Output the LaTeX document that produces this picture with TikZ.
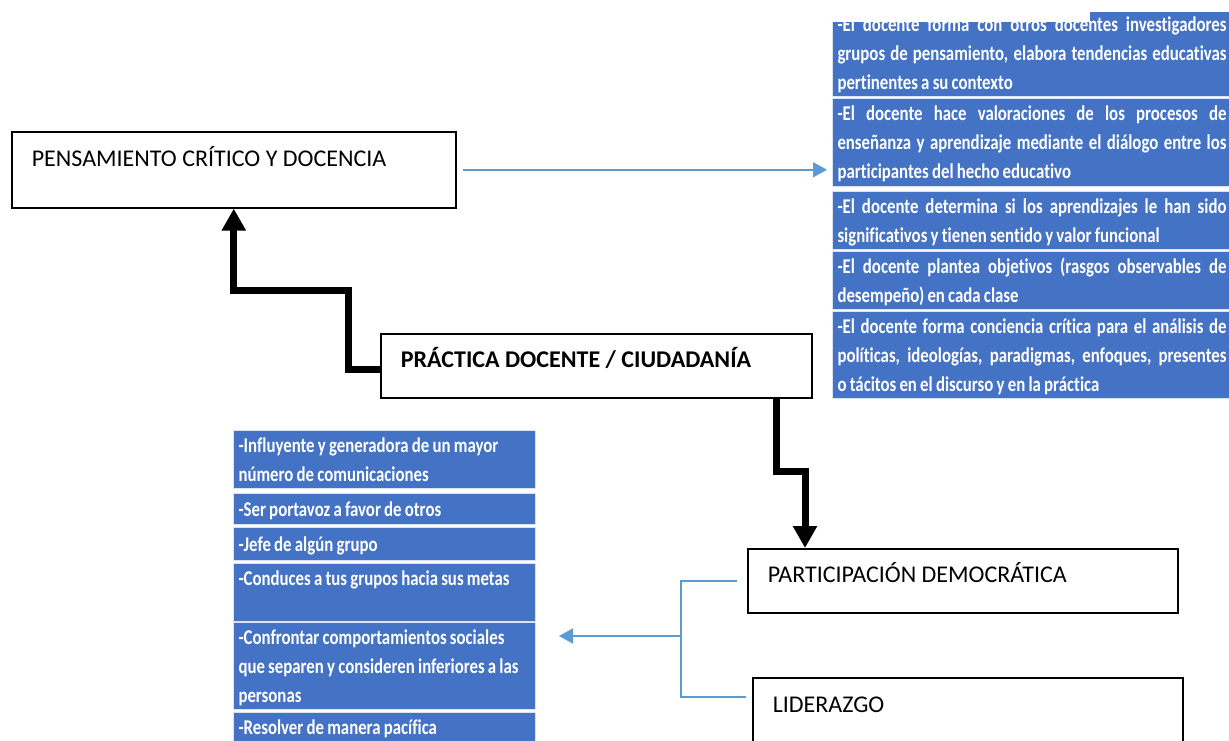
\documentclass[tikz,border=0pt]{standalone}
\usepackage{fontspec}
\setmainfont{Carlito}[Ligatures=NoCommon]
\newfontfamily\listfont{Carlito}[FakeStretch=0.8,WordSpace=0.85,Ligatures=NoCommon]
\usetikzlibrary{arrows.meta}
\definecolor{lblue}{HTML}{4472C4}
\definecolor{cblue}{HTML}{5B9BD5}
\newcommand{\ls}{\rule[-7pt]{0pt}{29pt}}

\begin{document}
\begin{tikzpicture}[x=1pt,y=-1pt,
  tema/.style={draw=black,line width=1.6pt,anchor=north west,inner ysep=0pt,inner xsep=20pt,align=flush left,font=\fontsize{24}{28}\selectfont},
  item/.style={fill=lblue,draw=white!80!lblue,line width=1pt,anchor=north west,inner ysep=0pt,inner xsep=5pt,text=white,font=\listfont\bfseries\fontsize{21}{29}\selectfont},
  gruesa/.style={line width=7pt,-{Triangle[width=23pt,length=22pt]}},
  azul/.style={cblue,line width=1.5pt}]

\useasboundingbox (0,0) rectangle (1229,741);
\clip (0,0) rectangle (1229,741);

\node[item,text width=389pt,align=justify] (tr1) at (832,9) {\ls-El docente forma con otros docentes investigadores\linebreak grupos de pensamiento, elabora tendencias educativas\linebreak pertinentes a su contexto\ls};
\node[item,text width=389pt,align=justify] (tr2) at (832,98.5) {\ls-El docente hace valoraciones de los procesos de\linebreak enseñanza y aprendizaje mediante el diálogo entre los\linebreak participantes del hecho educativo\ls};
\node[item,text width=389pt,align=justify] (tr3) at (832,191) {\ls-El docente determina si los aprendizajes le han sido\linebreak significativos y tienen sentido y valor funcional\ls};
\node[item,text width=389pt,align=justify] (tr4) at (832,251) {\ls-El docente plantea objetivos (rasgos observables de\linebreak desempeño) en cada clase\ls};
\node[item,text width=389pt,align=justify] (tr5) at (832,311) {\ls-El docente forma conciencia crítica para el análisis de\linebreak políticas, ideologías, paradigmas, enfoques, presentes\linebreak o tácitos en el discurso y en la práctica\ls};
\fill[white] (820,0) rectangle (1229,12);
\fill[white] (820,0) rectangle (1090,22);

\node[item,text width=292pt,align=flush left] (ll1) at (233,430) {\ls-Influyente y generadora de un mayor\\número de comunicaciones\ls};
\node[item,text width=292pt,align=flush left,minimum height=31pt] (ll2) at (233,493) {\ls-Ser portavoz a favor de otros};
\node[item,text width=292pt,align=flush left,minimum height=33pt] (ll3) at (233,527) {\ls-Jefe de algún grupo};
\node[item,text width=292pt,align=flush left] (ll4) at (233,563) {\ls-Conduces a tus grupos hacia sus metas\\\ls};
\node[item,text width=292pt,align=flush left] (ll5) at (233,622) {\ls-Confrontar comportamientos sociales\\que separen y consideren inferiores a las\\personas\ls};
\node[item,text width=292pt,align=flush left] (ll6) at (233,712) {\ls-Resolver de manera pacífica\ls};

\node[tema,text width=404pt,text height=35pt,text depth=41pt] (pens) at (11,131) {PENSAMIENTO CRÍTICO Y DOCENCIA};
\node[tema,text width=391pt,text height=34pt,text depth=30pt] (prac) at (380,333) {\bfseries PRÁCTICA DOCENTE / CIUDADANÍA};
\node[tema,text width=390pt,text height=34pt,text depth=30pt] (partic) at (747,548) {PARTICIPACIÓN DEMOCRÁTICA};
\node[tema,text width=390pt,text height=35pt,text depth=34pt] (lider) at (752,677) {LIDERAZGO};

\draw[azul,-{Triangle[width=15pt,length=14pt]},shorten <=6pt,shorten >=5pt] (pens.east) -- (pens.east -| tr2.west);

\draw[gruesa] ([yshift=-4pt]prac.west) -| (348,290) -| (pens.south);
\draw[gruesa] ([xshift=-36pt]prac.south east) -- ++(0,73) -| ([xshift=58pt]partic.north west);

\coordinate (nudo) at (681,636);
\coordinate (pie) at (746,697);
\draw[azul] ([xshift=-10pt]partic.west) -| (nudo) |- (pie);
\draw[azul,-{Triangle[width=15pt,length=14pt]},shorten >=23pt] (nudo) -- (nudo -| ll5.east);
\end{tikzpicture}
\end{document}
